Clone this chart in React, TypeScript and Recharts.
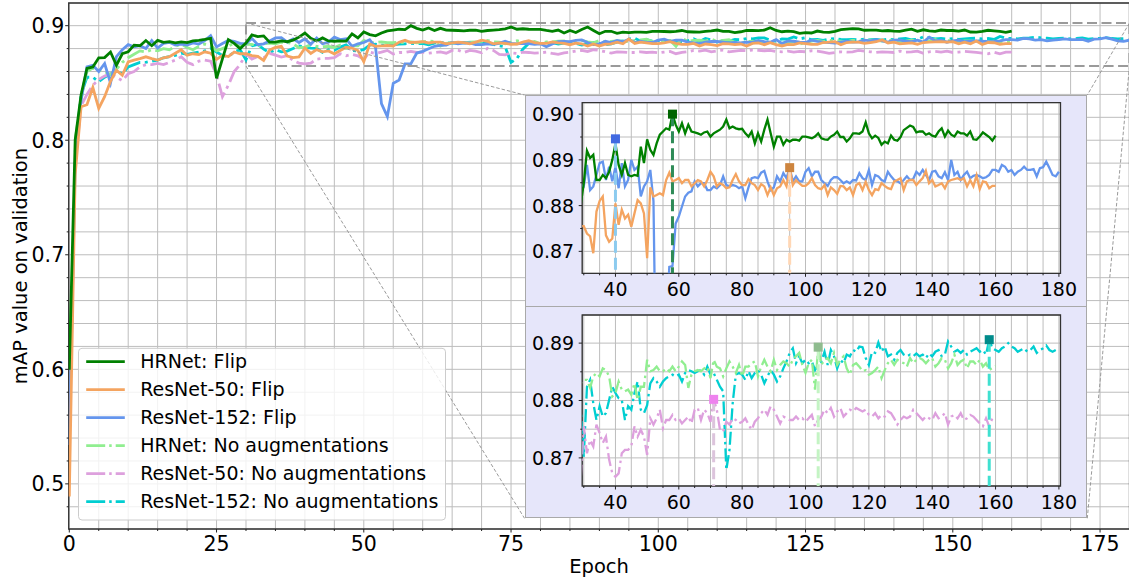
import React from 'react';
import { LineChart, Line, XAxis, YAxis, CartesianGrid, ReferenceArea, ReferenceLine, ReferenceDot } from 'recharts';

const FONT = "'DejaVu Sans', 'Liberation Sans', sans-serif";
const FS_MAIN_TICK = 20.5;
const FS_INSET_TICK = 19;
const FS_LEGEND = 19;
const FS_LABEL = 19.5;

// ---------------- data (one value per epoch, index = epoch) ----------------
const hrnetFlip = [
  0.5996, 0.8003, 0.8395, 0.8628, 0.8640, 0.8720, 0.8722, 0.8770, 0.8655, 0.8755,
  0.8772, 0.8830, 0.8825, 0.8870, 0.8825, 0.8872, 0.8855, 0.8860, 0.8850, 0.8858,
  0.8852, 0.8868, 0.8872, 0.8880, 0.8890, 0.8540, 0.8710, 0.8878, 0.8845, 0.8800,
  0.8849, 0.8920, 0.8904, 0.8911, 0.8856, 0.8856, 0.8867, 0.8860, 0.8874, 0.8900,
  0.8936, 0.8889, 0.8867, 0.8893, 0.8867, 0.8864, 0.8867, 0.8865, 0.8929, 0.8893,
  0.8945, 0.8922, 0.8911, 0.8936, 0.8955, 0.8962, 0.8969, 0.8966, 0.9000, 0.8977,
  0.8962, 0.8980, 0.8958, 0.8977, 0.8962, 0.8960, 0.8958, 0.8955, 0.8960, 0.8962,
  0.8951, 0.8958, 0.8962, 0.8966, 0.8973, 0.8988, 0.8969, 0.8973, 0.8969, 0.8967,
  0.8968, 0.8958, 0.8951, 0.8962, 0.8936, 0.8958, 0.8940, 0.8966, 0.8988, 0.8958,
  0.8929, 0.8951, 0.8951, 0.8933, 0.8944, 0.8940, 0.8944, 0.8944, 0.8942, 0.8951,
  0.8951, 0.8949, 0.8947, 0.8951, 0.8958, 0.8947, 0.8945, 0.8944, 0.8951, 0.8955,
  0.8962, 0.8950, 0.8950, 0.8940, 0.8947, 0.8958, 0.8958, 0.8957, 0.8962, 0.8982,
  0.8958, 0.8947, 0.8953, 0.8948, 0.8933, 0.8940, 0.8936, 0.8953, 0.8944, 0.8942,
  0.8950, 0.8965, 0.8970, 0.8975, 0.8972, 0.8960, 0.8962, 0.8962, 0.8955, 0.8958,
  0.8953, 0.8951, 0.8962, 0.8969, 0.8951, 0.8964, 0.8955, 0.8951, 0.8962, 0.8958,
  0.8958, 0.8953, 0.8962, 0.8945, 0.8944, 0.8951, 0.8960, 0.8955, 0.8950, 0.8942,
  0.8953,
];

const resnet50Flip = [
  0.4890, 0.7700, 0.8293, 0.8310, 0.8460, 0.8277, 0.8380, 0.8515, 0.8612, 0.8567,
  0.8684, 0.8700, 0.8713, 0.8728, 0.8712, 0.8700, 0.8720, 0.8730, 0.8760, 0.8790,
  0.8742, 0.8755, 0.8748, 0.8772, 0.8760, 0.8705, 0.8740, 0.8730, 0.8770, 0.8755,
  0.8755, 0.8739, 0.8733, 0.8696, 0.8787, 0.8810, 0.8820, 0.8735, 0.8721, 0.8728,
  0.8805, 0.8758, 0.8791, 0.8772, 0.8780, 0.8754, 0.8783, 0.8812, 0.8805, 0.8783,
  0.8685, 0.8840, 0.8820, 0.8823, 0.8827, 0.8823, 0.8856, 0.8872, 0.8853, 0.8856,
  0.8860, 0.8849, 0.8856, 0.8856, 0.8842, 0.8849, 0.8856, 0.8853, 0.8842, 0.8856,
  0.8874, 0.8864, 0.8842, 0.8849, 0.8845, 0.8838, 0.8840, 0.8856, 0.8869, 0.8853,
  0.8845, 0.8845, 0.8858, 0.8849, 0.8845, 0.8834, 0.8847, 0.8842, 0.8823, 0.8840,
  0.8823, 0.8838, 0.8842, 0.8856, 0.8842, 0.8883, 0.8845, 0.8856, 0.8849, 0.8843,
  0.8843, 0.8849, 0.8860, 0.8845, 0.8838, 0.8836, 0.8845, 0.8823, 0.8840, 0.8834,
  0.8826, 0.8843, 0.8842, 0.8834, 0.8840, 0.8823, 0.8845, 0.8849, 0.8834, 0.8852,
  0.8834, 0.8823, 0.8836, 0.8834, 0.8849, 0.8843, 0.8838, 0.8836, 0.8853, 0.8856,
  0.8860, 0.8834, 0.8853, 0.8856, 0.8856, 0.8845, 0.8853, 0.8860, 0.8876, 0.8849,
  0.8856, 0.8842, 0.8845, 0.8849, 0.8838, 0.8853, 0.8856, 0.8858, 0.8860, 0.8856,
  0.8860, 0.8842, 0.8856, 0.8842, 0.8866, 0.8836, 0.8853, 0.8851, 0.8838, 0.8843,
  0.8843,
];

const resnet152Flip = [
  0.5340, 0.7800, 0.8350, 0.8640, 0.8654, 0.8600, 0.8670, 0.8500, 0.8730, 0.8790,
  0.8835, 0.8815, 0.8825, 0.8800, 0.8870, 0.8805, 0.8845, 0.8855, 0.8830, 0.8840,
  0.8830, 0.8850, 0.8840, 0.8870, 0.8912, 0.8815, 0.8845, 0.8870, 0.8862, 0.8845,
  0.8842, 0.8889, 0.8834, 0.8842, 0.8867, 0.8893, 0.8896, 0.8856, 0.8885, 0.8853,
  0.8885, 0.8838, 0.8893, 0.8842, 0.8856, 0.8900, 0.8878, 0.8885, 0.8820, 0.8842,
  0.8853, 0.8878, 0.8810, 0.8320, 0.8206, 0.8497, 0.8526, 0.8666, 0.8668, 0.8761,
  0.8776, 0.8798, 0.8820, 0.8828, 0.8831, 0.8853, 0.8842, 0.8849, 0.8849, 0.8834,
  0.8834, 0.8842, 0.8838, 0.8845, 0.8864, 0.8845, 0.8842, 0.8845, 0.8843, 0.8838,
  0.8842, 0.8816, 0.8840, 0.8860, 0.8862, 0.8860, 0.8872, 0.8876, 0.8853, 0.8834,
  0.8840, 0.8864, 0.8853, 0.8871, 0.8860, 0.8882, 0.8853, 0.8864, 0.8853, 0.8853,
  0.8874, 0.8882, 0.8864, 0.8874, 0.8874, 0.8856, 0.8849, 0.8843, 0.8856, 0.8862,
  0.8862, 0.8856, 0.8849, 0.8853, 0.8849, 0.8856, 0.8855, 0.8871, 0.8860, 0.8856,
  0.8878, 0.8845, 0.8867, 0.8864, 0.8856, 0.8853, 0.8874, 0.8864, 0.8856, 0.8853,
  0.8849, 0.8856, 0.8864, 0.8856, 0.8858, 0.8874, 0.8867, 0.8878, 0.8867, 0.8856,
  0.8874, 0.8876, 0.8864, 0.8860, 0.8873, 0.8856, 0.8900, 0.8867, 0.8874, 0.8856,
  0.8867, 0.8874, 0.8860, 0.8865, 0.8867, 0.8864, 0.8860, 0.8862, 0.8867, 0.8878,
  0.8878, 0.8874, 0.8889, 0.8885, 0.8874, 0.8878, 0.8867, 0.8874, 0.8878, 0.8885,
  0.8878, 0.8878, 0.8880, 0.8864, 0.8882, 0.8884, 0.8896, 0.8882, 0.8867, 0.8864,
  0.8874,
];

const hrnetNoAug = [
  null, 0.8000, 0.8360, 0.8600, 0.8630, 0.8610, 0.8600, 0.8570, 0.8620, 0.8680,
  0.8720, 0.8750, 0.8780, 0.8770, 0.8790, 0.8780, 0.8800, 0.8790, 0.8820, 0.8840,
  0.8810, 0.8790, 0.8820, 0.8840, 0.8830, 0.8780, 0.8800, 0.8820, 0.8850, 0.8830,
  0.8836, 0.8836, 0.8822, 0.8842, 0.8848, 0.8842, 0.8856, 0.8853, 0.8842, 0.8807,
  0.8813, 0.8833, 0.8819, 0.8816, 0.8819, 0.8810, 0.8830, 0.8801, 0.8824, 0.8824,
  0.8871, 0.8851, 0.8853, 0.8859, 0.8851, 0.8851, 0.8856, 0.8851, 0.8859, 0.8851,
  0.8859, 0.8868, 0.8862, 0.8822, 0.8845, 0.8851, 0.8853, 0.8851, 0.8856, 0.8859,
  0.8839, 0.8871, 0.8859, 0.8856, 0.8842, 0.8856, 0.8868, 0.8859, 0.8848, 0.8862,
  0.8842, 0.8859, 0.8859, 0.8865, 0.8868, 0.8842, 0.8859, 0.8871, 0.8859, 0.8851,
  0.8871, 0.8853, 0.8862, 0.8868, 0.8865, 0.8859, 0.8871, 0.8877, 0.8883, 0.8862,
  0.8848, 0.8865, 0.8871, 0.8819, 0.8893, 0.8862, 0.8871, 0.8874, 0.8865, 0.8883,
  0.8862, 0.8871, 0.8877, 0.8856, 0.8845, 0.8862, 0.8865, 0.8859, 0.8851, 0.8853,
  0.8845, 0.8848, 0.8853, 0.8859, 0.8839, 0.8853, 0.8865, 0.8871, 0.8862, 0.8871,
  0.8868, 0.8865, 0.8859, 0.8874, 0.8865, 0.8871, 0.8874, 0.8871, 0.8865, 0.8871,
  0.8874, 0.8859, 0.8865, 0.8874, 0.8871, 0.8856, 0.8865, 0.8880, 0.8862, 0.8868,
  0.8871, 0.8856, 0.8868, 0.8868, 0.8862, 0.8871, 0.8859, 0.8865, 0.8853, 0.8857,
  0.8860,
];

const resnet50NoAug = [
  null, 0.7800, 0.8300, 0.8400, 0.8480, 0.8530, 0.8560, 0.8580, 0.8550, 0.8520,
  0.8580, 0.8600, 0.8640, 0.8660, 0.8660, 0.8670, 0.8660, 0.8680, 0.8700, 0.8728,
  0.8680, 0.8660, 0.8690, 0.8700, 0.8690, 0.8570, 0.8380, 0.8480, 0.8600, 0.8660,
  0.8755, 0.8708, 0.8731, 0.8720, 0.8758, 0.8743, 0.8726, 0.8737, 0.8697, 0.8673,
  0.8667, 0.8673, 0.8708, 0.8714, 0.8714, 0.8720, 0.8755, 0.8737, 0.8749, 0.8737,
  0.8705, 0.8769, 0.8758, 0.8769, 0.8784, 0.8752, 0.8766, 0.8766, 0.8775, 0.8766,
  0.8769, 0.8760, 0.8766, 0.8772, 0.8760, 0.8784, 0.8787, 0.8766, 0.8784, 0.8778,
  0.8763, 0.8802, 0.8784, 0.8749, 0.8746, 0.8763, 0.8758, 0.8769, 0.8766, 0.8760,
  0.8763, 0.8769, 0.8758, 0.8749, 0.8763, 0.8769, 0.8778, 0.8784, 0.8775, 0.8790,
  0.8784, 0.8772, 0.8760, 0.8772, 0.8769, 0.8766, 0.8766, 0.8772, 0.8766, 0.8769,
  0.8763, 0.8769, 0.8775, 0.8755, 0.8766, 0.8772, 0.8784, 0.8778, 0.8787, 0.8772,
  0.8781, 0.8787, 0.8772, 0.8778, 0.8784, 0.8781, 0.8787, 0.8784, 0.8781, 0.8784,
  0.8775, 0.8772, 0.8778, 0.8769, 0.8775, 0.8772, 0.8781, 0.8778, 0.8769, 0.8758,
  0.8766, 0.8772, 0.8769, 0.8772, 0.8784, 0.8778, 0.8772, 0.8766, 0.8772, 0.8769,
  0.8766, 0.8778, 0.8769, 0.8772, 0.8778, 0.8758, 0.8772, 0.8775, 0.8769, 0.8778,
  0.8766, 0.8769, 0.8775, 0.8772, 0.8766, 0.8760, 0.8755, 0.8769, 0.8755, 0.8769,
  0.8769,
];

const resnet152NoAug = [
  null, 0.7900, 0.8400, 0.8550, 0.8550, 0.8510, 0.8550, 0.8580, 0.8600, 0.8580,
  0.8640, 0.8660, 0.8680, 0.8680, 0.8690, 0.8700, 0.8720, 0.8730, 0.8740, 0.8760,
  0.8750, 0.8760, 0.8770, 0.8780, 0.8800, 0.8770, 0.8740, 0.8730, 0.8770, 0.8790,
  0.8702, 0.8824, 0.8836, 0.8795, 0.8766, 0.8790, 0.8772, 0.8778, 0.8801, 0.8824,
  0.8813, 0.8804, 0.8801, 0.8766, 0.8790, 0.8784, 0.8813, 0.8833, 0.8784, 0.8778,
  0.8792, 0.8830, 0.8839, 0.8833, 0.8824, 0.8833, 0.8839, 0.8842, 0.8845, 0.8842,
  0.8845, 0.8833, 0.8848, 0.8853, 0.8851, 0.8848, 0.8851, 0.8853, 0.8845, 0.8859,
  0.8845, 0.8848, 0.8836, 0.8824, 0.8816, 0.8679, 0.8714, 0.8795, 0.8845, 0.8848,
  0.8845, 0.8836, 0.8851, 0.8839, 0.8848, 0.8853, 0.8845, 0.8830, 0.8842, 0.8853,
  0.8845, 0.8833, 0.8842, 0.8856, 0.8868, 0.8883, 0.8891, 0.8865, 0.8877, 0.8865,
  0.8871, 0.8865, 0.8868, 0.8853, 0.8862, 0.8868, 0.8885, 0.8862, 0.8888, 0.8877,
  0.8856, 0.8871, 0.8865, 0.8880, 0.8877, 0.8888, 0.8885, 0.8894, 0.8893, 0.8874,
  0.8862, 0.8885, 0.8883, 0.8901, 0.8885, 0.8894, 0.8877, 0.8880, 0.8871, 0.8883,
  0.8888, 0.8880, 0.8877, 0.8880, 0.8877, 0.8882, 0.8877, 0.8880, 0.8874, 0.8882,
  0.8877, 0.8885, 0.8888, 0.8877, 0.8880, 0.8903, 0.8894, 0.8885, 0.8888, 0.8883,
  0.8888, 0.8880, 0.8885, 0.8888, 0.8891, 0.8885, 0.8888, 0.8880, 0.8906, 0.8891,
  0.8888, 0.8885, 0.8891, 0.8894, 0.8900, 0.8894, 0.8891, 0.8885, 0.8888, 0.8891,
  0.8885, 0.8888, 0.8894, 0.8883, 0.8888, 0.8891, 0.8896, 0.8888, 0.8885, 0.8888,
];

// series metadata (legend order)
const seriesKeys = ['hf', 'r50f', 'r152f', 'hn', 'r50n', 'r152n'];
const seriesNames = [
  'HRNet: Flip',
  'ResNet-50: Flip',
  'ResNet-152: Flip',
  'HRNet: No augmentations',
  'ResNet-50: No augmentations',
  'ResNet-152: No augmentations',
];
const seriesColors = ['#008000', '#F4A460', '#6495ED', '#90EE90', '#DDA0DD', '#00CED1'];
const seriesDashed = [false, false, false, true, true, true];
const seriesValues = [hrnetFlip, resnet50Flip, resnet152Flip, hrnetNoAug, resnet50NoAug, resnet152NoAug];

// best epochs (markers), same order as series
const bestEpochs = [58, 95, 40, 104, 71, 158];
const bestValues = [0.9, 0.8883, 0.8946, 0.8893, 0.8802, 0.8906];
const markerColors = ['#006400', '#CD853F', '#4169E1', '#8FBC8F', '#EE82EE', '#008B8B'];
const markerLineColors = ['#2E8B57', '#FFD7B5', '#8CCBEF', '#C4F4C4', '#DCC4DC', '#40E0D0'];

// ticks
const mainXTicks = [0, 5, 10, 15, 20, 25, 30, 35, 40, 45, 50, 55, 60, 65, 70, 75, 80, 85, 90, 95, 100, 105, 110, 115, 120, 125, 130, 135, 140, 145, 150, 155, 160, 165, 170, 175, 180];
const mainXMajor = [0, 25, 50, 75, 100, 125, 150, 175];
const mainYTicks = [0.48, 0.5, 0.52, 0.54, 0.56, 0.58, 0.6, 0.62, 0.64, 0.66, 0.68, 0.7, 0.72, 0.74, 0.76, 0.78, 0.8, 0.82, 0.84, 0.86, 0.88, 0.9];
const mainYMajor = [0.5, 0.6, 0.7, 0.8, 0.9];
const insetXTicks = [30, 35, 40, 45, 50, 55, 60, 65, 70, 75, 80, 85, 90, 95, 100, 105, 110, 115, 120, 125, 130, 135, 140, 145, 150, 155, 160, 165, 170, 175, 180];
const insetXMajor = [40, 60, 80, 100, 120, 140, 160, 180];
const inset1YTicks = [0.87, 0.875, 0.88, 0.885, 0.89, 0.895, 0.9];
const inset1YMajor = [0.87, 0.88, 0.89, 0.9];
const inset2YTicks = [0.87, 0.875, 0.88, 0.885, 0.89];
const inset2YMajor = [0.87, 0.88, 0.89];

// zoom rectangle in the main axes
const zoomX = [30, 180];
const zoomY = [0.8648, 0.9024];

const epochs: number[] = Array.from({ length: 181 }, (_, i) => i);
const rows = epochs.map((e) => {
  const r: any = { epoch: e };
  seriesKeys.forEach((k, i) => {
    const v = seriesValues[i][e];
    r[k] = v === undefined ? null : v;
  });
  return r;
});

// ---------------- layout ----------------
const MAIN = { W: 1140, H: 579, left: 68.7, right: 1129.5, top: 3, bottom: 529 };
const MAIN_XDOM: [number, number] = [-0.1, 180];
const MAIN_YDOM: [number, number] = [0.4606, 0.9198];
const BOX = { left: 524.5, right: 1087.3, top: 95, mid: 307, bottom: 518.3 };

const mx = (e: number) => MAIN.left + ((e - MAIN_XDOM[0]) / (MAIN_XDOM[1] - MAIN_XDOM[0])) * (MAIN.right - MAIN.left);
const my = (v: number) => MAIN.top + ((MAIN_YDOM[1] - v) / (MAIN_YDOM[1] - MAIN_YDOM[0])) * (MAIN.bottom - MAIN.top);

const near = (arr: number[], v: number) => arr.some((m) => Math.abs(m - v) < 1e-9);

function T({ x, y, anchor = 'start', size, children }: any) {
  return (
    <text x={x} y={y} textAnchor={anchor} fontFamily={FONT} fontSize={size} fill="#000">
      {children}
    </text>
  );
}

function makeXTick(bottomY: number, majors: number[], centerOff: number, fs: number) {
  return (props: any) => {
    const { x, payload } = props;
    const v = payload.value;
    const major = near(majors, v);
    return (
      <g>
        <line x1={x} x2={x} y1={bottomY} y2={bottomY + (major ? 3.5 : 2)} stroke="#222" strokeWidth={1} />
        {major ? (
          <T x={x} y={bottomY + centerOff + 0.3645 * fs} anchor="middle" size={fs}>
            {String(v)}
          </T>
        ) : null}
      </g>
    );
  };
}

function makeYTick(leftX: number, majors: number[], digits: number, gap: number, fs: number) {
  return (props: any) => {
    const { y, payload } = props;
    const v = payload.value;
    const major = near(majors, v);
    return (
      <g>
        <line x1={leftX} x2={leftX - (major ? 3.5 : 2)} y1={y} y2={y} stroke="#222" strokeWidth={1} />
        {major ? (
          <T x={leftX - gap} y={y + 0.3645 * fs} anchor="end" size={fs}>
            {v.toFixed(digits)}
          </T>
        ) : null}
      </g>
    );
  };
}

const MAIN_DASH = '18 4.5 3 4.5';
const INSET_DASH = '13 4 2.5 4';
const drawOrder = [5, 4, 3, 2, 1, 0];

function MainChart() {
  const yAxisW = 60;
  const xAxisH = 30;
  const margin = {
    top: MAIN.top,
    right: MAIN.W - MAIN.right,
    bottom: MAIN.H - MAIN.bottom - xAxisH,
    left: MAIN.left - yAxisW,
  };
  return (
    <LineChart width={MAIN.W} height={MAIN.H} data={rows} margin={margin}>
      <CartesianGrid stroke="#bdbdbd" strokeWidth={1} fill="#ffffff" />
      <XAxis
        type="number"
        dataKey="epoch"
        domain={MAIN_XDOM}
        ticks={mainXTicks}
        interval={0}
        allowDataOverflow
        height={xAxisH}
        axisLine={false}
        tickLine={false}
        tickSize={0}
        tickMargin={0}
        tick={makeXTick(MAIN.bottom, mainXMajor, 14.3, FS_MAIN_TICK)}
      />
      <YAxis
        type="number"
        domain={MAIN_YDOM}
        ticks={mainYTicks}
        interval={0}
        allowDataOverflow
        width={yAxisW}
        axisLine={false}
        tickLine={false}
        tickSize={0}
        tickMargin={0}
        tick={makeYTick(MAIN.left, mainYMajor, 1, 4.5, FS_MAIN_TICK)}
      />
      {drawOrder.map((i) => (
        <Line
          key={seriesKeys[i]}
          type="linear"
          dataKey={seriesKeys[i]}
          stroke={seriesColors[i]}
          strokeWidth={2.8}
          strokeDasharray={seriesDashed[i] ? MAIN_DASH : undefined}
          dot={false}
          activeDot={false}
          isAnimationActive={false}
          connectNulls={false}
        />
      ))}
      <ReferenceArea
        x1={zoomX[0]}
        x2={zoomX[1]}
        y1={zoomY[0]}
        y2={zoomY[1]}
        fill="none"
        fillOpacity={0}
        stroke="#9a9a9a"
        strokeWidth={2}
        strokeDasharray="10 4.5"
        ifOverflow="visible"
      />
      <ReferenceArea
        x1={MAIN_XDOM[0]}
        x2={MAIN_XDOM[1]}
        y1={MAIN_YDOM[0]}
        y2={MAIN_YDOM[1]}
        fill="none"
        fillOpacity={0}
        stroke="#333"
        strokeWidth={1.3}
        ifOverflow="visible"
      />
    </LineChart>
  );
}

function InsetChart({ idx, yDom, yTicks, yMajor, height, mTop, mBottom }: any) {
  const width = BOX.right - BOX.left;
  const yAxisW = 50;
  const xAxisH = 25;
  const mLeft = 581.7 - BOX.left - yAxisW;
  const mRight = BOX.right - 1060;
  const plotLeft = mLeft + yAxisW;
  const plotBottom = height - mBottom - xAxisH;
  const xDom: [number, number] = [29.5, 180.5];
  return (
    <LineChart width={width} height={height} data={rows} margin={{ top: mTop, right: mRight, bottom: mBottom, left: mLeft }}>
      <CartesianGrid stroke="#bdbdbd" strokeWidth={1} fill="#ffffff" />
      <XAxis
        type="number"
        dataKey="epoch"
        domain={xDom}
        ticks={insetXTicks}
        interval={0}
        allowDataOverflow
        height={xAxisH}
        axisLine={false}
        tickLine={false}
        tickSize={0}
        tickMargin={0}
        tick={makeXTick(plotBottom, insetXMajor, 16, FS_INSET_TICK)}
      />
      <YAxis
        type="number"
        domain={yDom}
        ticks={yTicks}
        interval={0}
        allowDataOverflow
        width={yAxisW}
        axisLine={false}
        tickLine={false}
        tickSize={0}
        tickMargin={0}
        tick={makeYTick(plotLeft, yMajor, 2, 8, FS_INSET_TICK)}
      />
      {idx.map((i: number) => (
        <Line
          key={seriesKeys[i]}
          type="linear"
          dataKey={seriesKeys[i]}
          stroke={seriesColors[i]}
          strokeWidth={2.3}
          strokeDasharray={seriesDashed[i] ? INSET_DASH : undefined}
          dot={false}
          activeDot={false}
          isAnimationActive={false}
          connectNulls={false}
        />
      ))}
      {idx.map((i: number) => (
        <ReferenceLine
          key={'ml' + i}
          segment={[
            { x: bestEpochs[i], y: bestValues[i] },
            { x: bestEpochs[i], y: yDom[0] },
          ]}
          stroke={markerLineColors[i]}
          strokeWidth={3}
          strokeDasharray="12 5"
          ifOverflow="visible"
        />
      ))}
      {idx.map((i: number) => (
        <ReferenceDot
          key={'md' + i}
          x={bestEpochs[i]}
          y={bestValues[i]}
          ifOverflow="visible"
          shape={(p: any) => <rect x={p.cx - 4.5} y={p.cy - 4.5} width={9} height={9} fill={markerColors[i]} />}
        />
      ))}
      <ReferenceArea
        x1={xDom[0]}
        x2={xDom[1]}
        y1={yDom[0]}
        y2={yDom[1]}
        fill="none"
        fillOpacity={0}
        stroke="#333"
        strokeWidth={1.3}
        ifOverflow="visible"
      />
    </LineChart>
  );
}

function Legend() {
  const box = { x: 78.5, y: 348.3, w: 367, h: 171.7 };
  return (
    <svg width={1129} height={579} style={{ position: 'absolute', left: 0, top: 0, pointerEvents: 'none' }}>
      <rect x={box.x} y={box.y} width={box.w} height={box.h} rx={3.5} fill="#ffffff" fillOpacity={0.8} stroke="#cccccc" strokeWidth={1} />
      {seriesNames.map((name, i) => {
        const cy = 361.7 + 28 * i;
        return (
          <g key={name}>
            <line
              x1={86.2}
              x2={124.8}
              y1={cy}
              y2={cy}
              stroke={seriesColors[i]}
              strokeWidth={2.8}
              strokeDasharray={seriesDashed[i] ? '19 4 2.5 4' : undefined}
            />
            <T x={140.2} y={cy + 0.346 * FS_LEGEND} size={FS_LEGEND}>
              {name}
            </T>
          </g>
        );
      })}
    </svg>
  );
}

function Overlay() {
  const x0 = mx(zoomX[0]);
  const x1 = mx(zoomX[1]);
  const yT = my(zoomY[1]);
  const yB = my(zoomY[0]);
  const st = { stroke: '#9a9a9a', strokeWidth: 1, strokeDasharray: '3.5 2', fill: 'none' };
  return (
    <svg width={1129} height={579} style={{ position: 'absolute', left: 0, top: 0, pointerEvents: 'none' }}>
      <line x1={x0} y1={yT} x2={BOX.left} y2={BOX.top} {...st} />
      <line x1={x0} y1={yB} x2={BOX.left} y2={BOX.bottom} {...st} />
      <line x1={x1} y1={yT} x2={BOX.right} y2={BOX.top} {...st} />
      <line x1={x1} y1={yB} x2={BOX.right} y2={BOX.bottom} {...st} />
      <T x={(MAIN.left + MAIN.right) / 2} y={573} anchor="middle" size={FS_LABEL}>
        Epoch
      </T>
      <text
        transform={`translate(27 ${(MAIN.top + MAIN.bottom) / 2}) rotate(-90)`}
        textAnchor="middle"
        fontFamily={FONT}
        fontSize={FS_LABEL}
        fill="#000"
      >
        mAP value on validation
      </text>
    </svg>
  );
}

export default function App() {
  const boxStyle = (top: number, h: number): React.CSSProperties => ({
    position: 'absolute',
    left: BOX.left,
    top,
    width: BOX.right - BOX.left,
    height: h,
    background: '#E6E6FA',
    border: '1.5px solid #a9a9a9',
    boxSizing: 'border-box',
  });
  return (
    <div style={{ position: 'absolute', left: 0, top: 0, width: 1129, height: 579, overflow: 'hidden', background: '#fff' }}>
      <div style={{ position: 'absolute', left: 0, top: 0 }}>
        <MainChart />
      </div>
      <Overlay />
      <Legend />
      <div style={boxStyle(BOX.top, BOX.mid - BOX.top + 0.75)} />
      <div style={boxStyle(BOX.mid - 0.75, BOX.bottom - BOX.mid + 0.75)} />
      <div style={{ position: 'absolute', left: BOX.left, top: BOX.top }}>
        <InsetChart
          idx={[2, 1, 0]}
          yDom={[0.8652, 0.9025]}
          yTicks={inset1YTicks}
          yMajor={inset1YMajor}
          height={BOX.mid - BOX.top}
          mTop={7.7}
          mBottom={8.7}
        />
      </div>
      <div style={{ position: 'absolute', left: BOX.left, top: BOX.mid }}>
        <InsetChart
          idx={[5, 4, 3]}
          yDom={[0.8651, 0.8949]}
          yTicks={inset2YTicks}
          yMajor={inset2YMajor}
          height={BOX.bottom - BOX.mid}
          mTop={8}
          mBottom={7.3}
        />
      </div>
    </div>
  );
}
